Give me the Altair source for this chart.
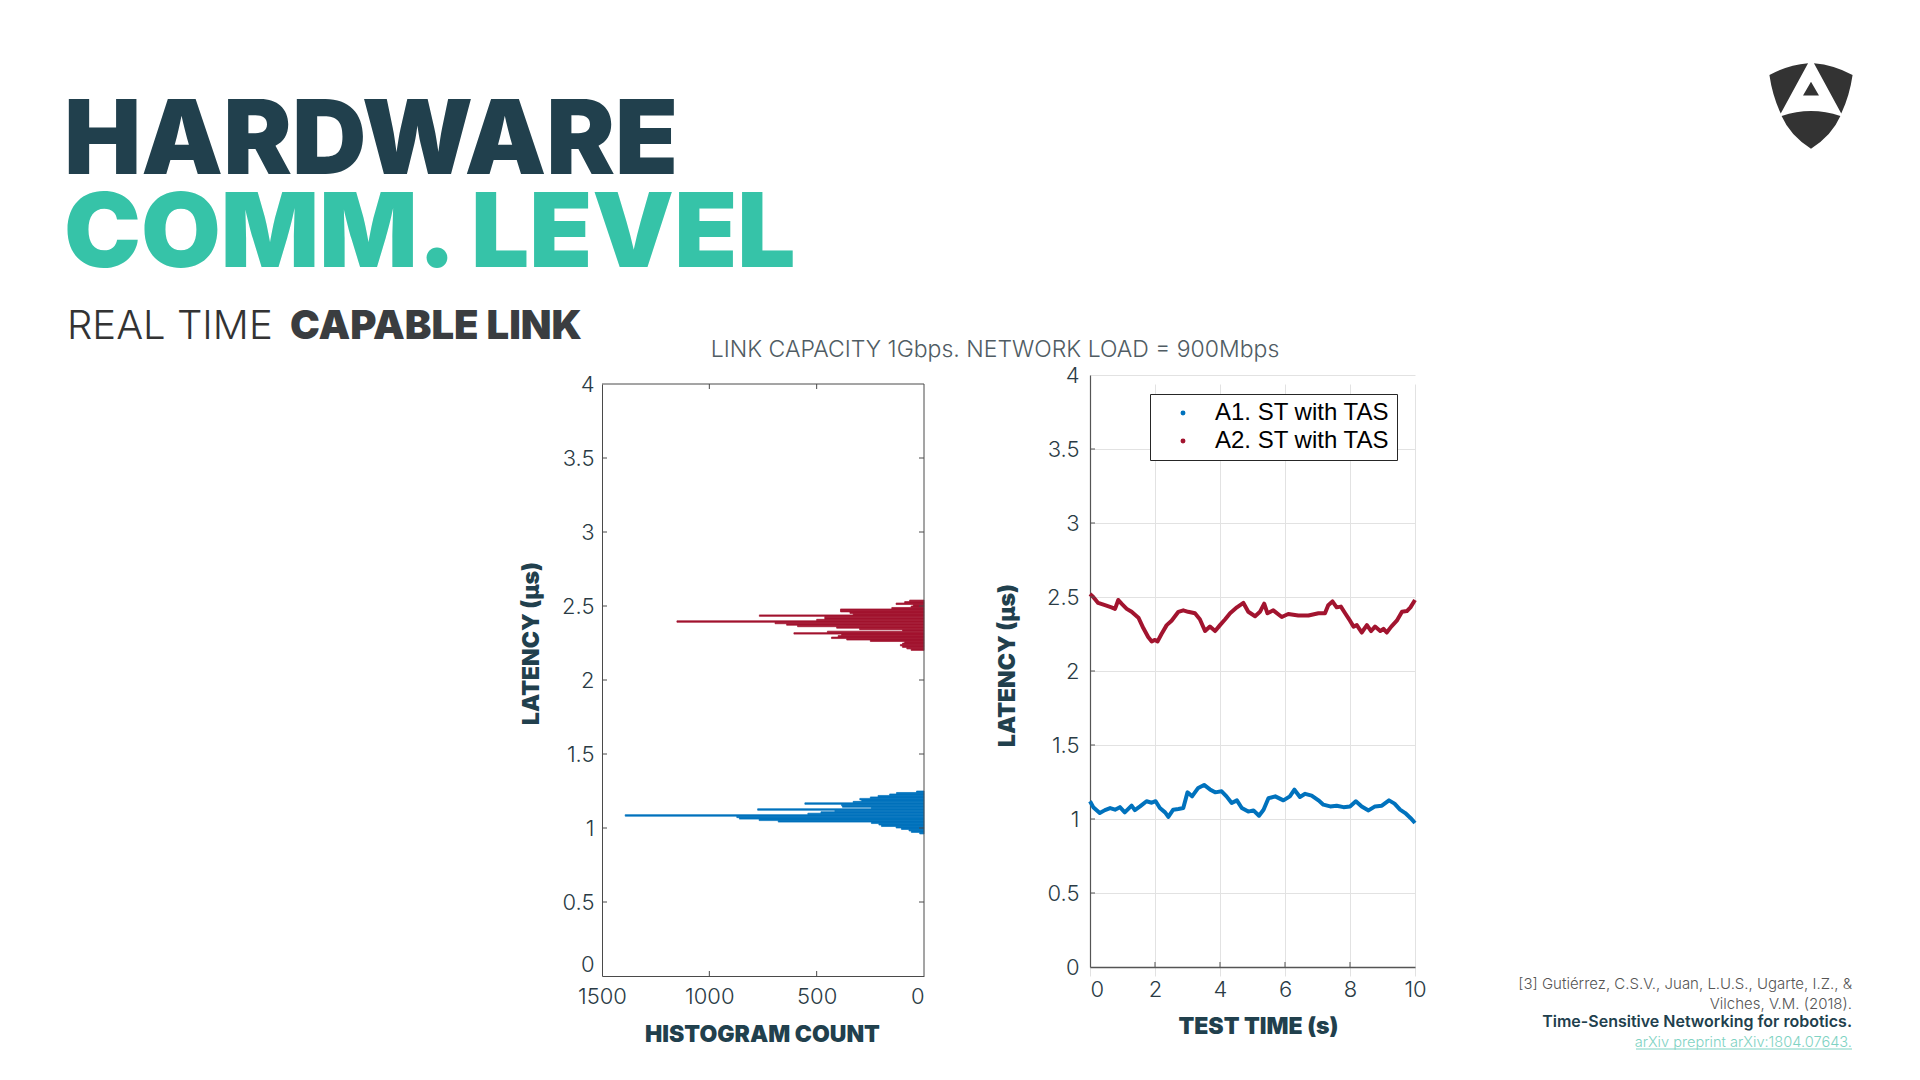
import altair as alt
import pandas as pd

# ------------------------------------------------------------------
# Measurements
# ------------------------------------------------------------------
SERIES = ["A1. ST with TAS", "A2. ST with TAS"]
SERIES_COLORS = ["#0072bd", "#a2142f"]

# Latency histogram: lower edge of each 0.01 µs bin and its packet count
BIN_WIDTH = 0.01
a1_bin_lo = [0.96, 0.97, 0.98, 0.99, 1.00, 1.01, 1.02, 1.03, 1.04, 1.05,
             1.06, 1.07, 1.08, 1.09, 1.10, 1.11, 1.12, 1.13, 1.14, 1.15,
             1.16, 1.17, 1.18, 1.19, 1.20, 1.21, 1.22, 1.23, 1.24]
a1_bin_count = [20, 59, 70, 105, 130, 198, 210, 245, 679, 768,
                860, 872, 1392, 541, 480, 415, 775, 245, 380, 384,
                555, 330, 290, 299, 250, 214, 160, 128, 35]

a2_bin_lo = [2.20, 2.21, 2.22, 2.23, 2.24, 2.25, 2.26, 2.27, 2.28, 2.29,
             2.30, 2.31, 2.32, 2.33, 2.34, 2.35, 2.36, 2.37, 2.38, 2.39,
             2.40, 2.41, 2.42, 2.43, 2.44, 2.45, 2.46, 2.47, 2.48, 2.49,
             2.50, 2.51, 2.52, 2.53]
a2_bin_count = [60, 80, 100, 110, 100, 90, 250, 360, 431, 400,
                384, 606, 450, 100, 300, 407, 589, 640, 694, 1151,
                500, 462, 462, 767, 330, 345, 389, 389, 150, 60,
                50, 130, 90, 67]

# Latency over the 10 s test run
a1_time = [0.0, 0.1, 0.3, 0.46, 0.62, 0.77, 0.92, 1.07, 1.28, 1.38,
           1.54, 1.74, 1.9, 2.02, 2.15, 2.31, 2.41, 2.56, 2.72, 2.87,
           3.0, 3.14, 3.33, 3.51, 3.69, 3.85, 4.05, 4.2, 4.36, 4.52,
           4.67, 4.87, 5.03, 5.2, 5.34, 5.49, 5.7, 5.95, 6.15, 6.29,
           6.46, 6.62, 6.82, 7.03, 7.18, 7.39, 7.59, 7.8, 8.0, 8.18,
           8.36, 8.57, 8.77, 8.98, 9.2, 9.37, 9.54, 9.7, 9.86, 10.0]
a1_latency = [1.12, 1.08, 1.04, 1.06, 1.074, 1.063, 1.08, 1.045, 1.09, 1.06,
              1.085, 1.12, 1.11, 1.12, 1.074, 1.045, 1.015, 1.063, 1.068, 1.074,
              1.18, 1.153, 1.21, 1.23, 1.20, 1.18, 1.187, 1.153, 1.108, 1.126,
              1.074, 1.05, 1.058, 1.022, 1.063, 1.14, 1.153, 1.126, 1.153, 1.198,
              1.149, 1.17, 1.158, 1.126, 1.097, 1.085, 1.09, 1.08, 1.085, 1.12,
              1.085, 1.058, 1.085, 1.09, 1.126, 1.104, 1.063, 1.04, 1.007, 0.973]

a2_time = [0.0, 0.1, 0.25, 0.46, 0.66, 0.77, 0.87, 0.97, 1.13, 1.28,
           1.49, 1.64, 1.79, 1.9, 2.0, 2.08, 2.2, 2.36, 2.51, 2.72,
           2.87, 3.02, 3.23, 3.38, 3.54, 3.69, 3.85, 4.0, 4.16, 4.31,
           4.52, 4.72, 4.87, 5.08, 5.23, 5.36, 5.46, 5.64, 5.9, 6.1,
           6.41, 6.72, 7.03, 7.23, 7.33, 7.46, 7.59, 7.72, 7.85, 8.0,
           8.11, 8.21, 8.36, 8.52, 8.65, 8.77, 8.93, 9.03, 9.13, 9.27,
           9.44, 9.6, 9.75, 9.86, 10.0]
a2_latency = [2.52, 2.50, 2.46, 2.445, 2.43, 2.42, 2.48, 2.455, 2.42, 2.40,
              2.36, 2.29, 2.23, 2.20, 2.21, 2.20, 2.25, 2.31, 2.34, 2.40,
              2.41, 2.40, 2.39, 2.35, 2.27, 2.30, 2.27, 2.31, 2.35, 2.39,
              2.43, 2.46, 2.40, 2.37, 2.40, 2.455, 2.39, 2.41, 2.365, 2.385,
              2.375, 2.375, 2.39, 2.39, 2.445, 2.47, 2.43, 2.435, 2.39, 2.34,
              2.30, 2.31, 2.26, 2.31, 2.27, 2.30, 2.27, 2.285, 2.26, 2.30,
              2.34, 2.40, 2.405, 2.43, 2.48]

# Axis ticks
latency_ticks = [0, 0.5, 1, 1.5, 2, 2.5, 3, 3.5, 4]
count_ticks = [0, 500, 1000, 1500]
time_ticks = [0, 2, 4, 6, 8, 10]

# ------------------------------------------------------------------
# Page geometry (pixels)
# ------------------------------------------------------------------
PAGE_W, PAGE_H = 1920, 1080
HIST_X, PANEL_Y = 602, 375          # top-left corner of the histogram panel
HIST_W, LINE_W = 322, 325
PANEL_H = 601
PANEL_GAP = 166
HIST_TOP = 9                        # histogram frame starts a little lower
LINE_BOTTOM = 592                   # time axis sits a little higher
TICK = 5

HEAVY = "Inter"
LIGHT = "Inter"
INK = "#21404d"
TEAL = "#36c3a8"
LABEL_INK = "#2a3b45"


def px(x):
    return x - HIST_X


def py(y):
    return y - PANEL_Y


ONE = pd.DataFrame({"k": [0]})


def page_text(text, x, y, size, weight, color, font=LIGHT, align="left"):
    return alt.Chart(ONE).mark_text(
        text=text, align=align, baseline="alphabetic", font=font,
        fontSize=size, fontWeight=weight, color=color,
    ).encode(x=alt.value(px(x)), y=alt.value(py(y)))


def at_zero(special, default):
    """Label property that differs only for the tick at value 0."""
    return {"condition": {"test": "datum.value === 0", "value": special}, "value": default}


# ------------------------------------------------------------------
# Data tables
# ------------------------------------------------------------------
hist_df = pd.concat([
    pd.DataFrame({"lo": a1_bin_lo, "count": a1_bin_count, "series": SERIES[0]}),
    pd.DataFrame({"lo": a2_bin_lo, "count": a2_bin_count, "series": SERIES[1]}),
], ignore_index=True)
hist_df["hi"] = hist_df["lo"] + BIN_WIDTH

line_df = pd.concat([
    pd.DataFrame({"time": a1_time, "latency": a1_latency, "series": SERIES[0]}),
    pd.DataFrame({"time": a2_time, "latency": a2_latency, "series": SERIES[1]}),
], ignore_index=True)

inner_lat = pd.DataFrame({"v": latency_ticks[1:-1]})
inner_count = pd.DataFrame({"v": count_ticks[1:-1]})
inner_time = pd.DataFrame({"v": time_ticks[1:-1]})

color_scale = alt.Scale(domain=SERIES, range=SERIES_COLORS)


def axis_style(**kw):
    base = dict(
        labelFont=LIGHT, labelFontSize=22, labelFontWeight=300, labelColor=LABEL_INK,
        labelExpr="'' + datum.value", labelFlush=False, labelOverlap=False,
        ticks=False, tickSize=0, grid=False,
        domainColor="#4a4a4a", domainWidth=1,
        titleFont=HEAVY, titleFontSize=23, titleFontWeight=900, titleColor=INK,
        titleAlign="center", titleBaseline="middle",
    )
    base.update(kw)
    return alt.Axis(**base)


# ------------------------------------------------------------------
# Left panel: horizontal latency histogram (plus the slide texts)
# ------------------------------------------------------------------
count_scale = alt.Scale(domain=[0, 1500], reverse=True)
hist_lat_scale = alt.Scale(domain=[0, 4], range=[PANEL_H, HIST_TOP])

# zindex=1 keeps these axes above the white page background layer
count_axis = axis_style(values=count_ticks, title="HISTOGRAM COUNT", labelPadding=10,
                        labelAlign=at_zero("right", "center"),
                        titleX=160, titleY=58, zindex=1)
hist_lat_axis = axis_style(values=latency_ticks, title="LATENCY (µs)", labelPadding=8,
                           labelBaseline=at_zero("bottom", "middle"),
                           titleX=-71, titleY=268, titleAngle=270, zindex=1)

background = alt.Chart(ONE).mark_rect(color="white").encode(
    x=alt.value(px(0)), x2=alt.value(px(PAGE_W)),
    y=alt.value(py(0)), y2=alt.value(py(PAGE_H)),
)

LOGO_PATH = (
    "M -0.99 -0.74 Q -0.55 -0.98 -0.07 -1.02 L -0.72 0.18 Q -0.92 -0.25 -0.99 -0.74 Z "
    "M 0.99 -0.74 Q 0.55 -0.98 0.07 -1.02 L 0.72 0.18 Q 0.92 -0.25 0.99 -0.74 Z "
    "M -0.70 0.24 Q 0 0.0 0.70 0.24 Q 0.50 0.70 0 1.02 Q -0.50 0.70 -0.70 0.24 Z "
    "M -0.19 -0.25 L 0.19 -0.25 L 0 -0.58 Z"
)
logo = alt.Chart(ONE).mark_point(
    shape=LOGO_PATH, size=84 * 84, filled=True, color="#333333", opacity=1, strokeWidth=0,
).encode(x=alt.value(px(1811)), y=alt.value(py(106)))

CITE_GREY = "#555555"
LINK_TEAL = "#7fd3c3"
slide_texts = [
    page_text("HARDWARE", 64, 174, 103, 900, INK, HEAVY),
    page_text("COMM. LEVEL", 64, 267, 103, 900, TEAL, HEAVY),
    page_text("REAL TIME", 67, 339, 40, 300, "#333333"),
    page_text("CAPABLE LINK", 290, 339, 40, 900, "#3a3d40", HEAVY),
    page_text("LINK CAPACITY 1Gbps. NETWORK LOAD = 900Mbps", 995, 357, 23, 300,
              "#505c63", align="center"),
    page_text("[3] Gutiérrez, C.S.V., Juan, L.U.S., Ugarte, I.Z., &", 1852, 989, 15, 300,
              CITE_GREY, align="right"),
    page_text("Vilches, V.M. (2018).", 1852, 1009, 15, 300, CITE_GREY, align="right"),
    page_text("Time-Sensitive Networking for robotics.", 1852, 1027, 16, 600, INK,
              align="right"),
    page_text("arXiv preprint arXiv:1804.07643.", 1852, 1047, 14.6, 300, LINK_TEAL,
              align="right"),
]
link_underline = alt.Chart(ONE).mark_rule(color=LINK_TEAL, strokeWidth=1).encode(
    x=alt.value(px(1636)), x2=alt.value(px(1852)), y=alt.value(py(1049)),
)

# Each bin is outlined in its own colour so neighbouring bins merge into a solid shape
bars = alt.Chart(hist_df).mark_rect(strokeWidth=0.7).encode(
    x=alt.X("count:Q", scale=count_scale, axis=count_axis),
    x2=alt.datum(0),
    y=alt.Y("lo:Q", scale=hist_lat_scale, axis=hist_lat_axis),
    y2="hi:Q",
    color=alt.Color("series:N", scale=color_scale, legend=None),
    stroke=alt.Stroke("series:N", scale=color_scale, legend=None),
)

frame_style = dict(color="#4a4a4a", strokeWidth=1)
hist_frame = [
    alt.Chart(ONE).mark_rule(**frame_style).encode(
        x=alt.value(HIST_W), y=alt.value(HIST_TOP), y2=alt.value(PANEL_H)),
    alt.Chart(ONE).mark_rule(**frame_style).encode(
        x=alt.value(0), x2=alt.value(HIST_W), y=alt.value(HIST_TOP)),
    alt.Chart(inner_lat).mark_rule(**frame_style).encode(
        y=alt.Y("v:Q", scale=hist_lat_scale, axis=hist_lat_axis),
        x=alt.value(0), x2=alt.value(TICK)),
    alt.Chart(inner_lat).mark_rule(**frame_style).encode(
        y=alt.Y("v:Q", scale=hist_lat_scale, axis=hist_lat_axis),
        x=alt.value(HIST_W - TICK), x2=alt.value(HIST_W)),
    alt.Chart(inner_count).mark_rule(**frame_style).encode(
        x=alt.X("v:Q", scale=count_scale, axis=count_axis),
        y=alt.value(PANEL_H - TICK), y2=alt.value(PANEL_H)),
    alt.Chart(inner_count).mark_rule(**frame_style).encode(
        x=alt.X("v:Q", scale=count_scale, axis=count_axis),
        y=alt.value(HIST_TOP), y2=alt.value(HIST_TOP + TICK)),
]

hist = alt.layer(
    background, logo, *slide_texts, link_underline, bars, *hist_frame,
).properties(width=HIST_W, height=PANEL_H)

# ------------------------------------------------------------------
# Right panel: latency over test time
# ------------------------------------------------------------------
time_scale = alt.Scale(domain=[0, 10], nice=False)
line_lat_scale = alt.Scale(domain=[0, 4], range=[LINE_BOTTOM, 0])

time_axis = axis_style(values=time_ticks, title="TEST TIME (s)",
                       offset=-(PANEL_H - LINE_BOTTOM), labelPadding=12,
                       labelAlign=at_zero("left", "center"),
                       grid=True, gridColor="#e2e2e2", gridWidth=1,
                       domainColor="#555555", domainWidth=1.5, titleX=168, titleY=59)
line_lat_axis = axis_style(values=latency_ticks, title="LATENCY (µs)", labelPadding=11,
                           grid=True, gridColor="#e2e2e2", gridWidth=1,
                           domainColor="#555555", domainWidth=1.2,
                           titleX=-83, titleY=290, titleAngle=270)

lines = alt.Chart(line_df).mark_line(strokeWidth=4, strokeJoin="round").encode(
    x=alt.X("time:Q", scale=time_scale, axis=time_axis),
    y=alt.Y("latency:Q", scale=line_lat_scale, axis=line_lat_axis),
    color=alt.Color("series:N", scale=color_scale, legend=alt.Legend(
        title=None, orient="none", legendX=60, legendY=19, direction="vertical",
        fillColor="white", strokeColor="#262626", padding=7, cornerRadius=0,
        symbolType="circle", symbolSize=6, symbolStrokeWidth=2.5, symbolOffset=14,
        labelOffset=20, labelFont="Liberation Sans", labelFontSize=24,
        labelColor="#000000", labelLimit=400, rowPadding=4,
    )),
)

line_ticks = [
    alt.Chart(inner_time).mark_rule(color="#555555", strokeWidth=1).encode(
        x=alt.X("v:Q", scale=time_scale, axis=time_axis),
        y=alt.value(LINE_BOTTOM - TICK), y2=alt.value(LINE_BOTTOM)),
    alt.Chart(inner_lat).mark_rule(color="#555555", strokeWidth=1).encode(
        y=alt.Y("v:Q", scale=line_lat_scale, axis=line_lat_axis),
        x=alt.value(0), x2=alt.value(TICK)),
]

series_plot = alt.layer(lines, *line_ticks).properties(width=LINE_W, height=PANEL_H)

chart = (
    alt.hconcat(hist, series_plot, spacing=PANEL_GAP, bounds="flush")
    .resolve_scale(color="independent", stroke="independent")
    .resolve_legend(color="independent", stroke="independent")
    .properties(padding=0, background="white")
    .configure_view(stroke=None)
)

chart.save("out.html", embed_options={"renderer": "svg", "actions": False})
